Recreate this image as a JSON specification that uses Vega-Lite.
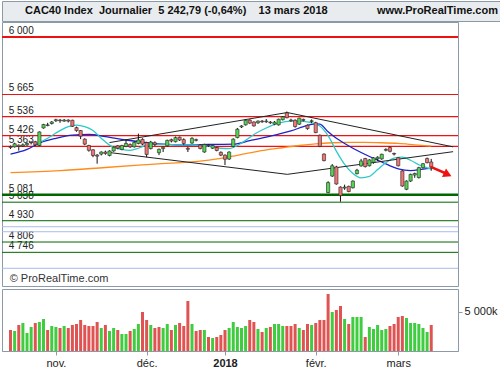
{
"$schema":"https://vega.github.io/schema/vega-lite/v6.json",
"padding":0,
"background":"white",
"config":{"font":"Liberation Sans","view":{"stroke":"#8c9aa8"}},
"datasets":{
"header":[{"pos":"a","t":"CAC40 Index\u00a0\u00a0Journalier\u00a0\u00a05 242,79 (-0,64%)\u00a0\u00a0\u00a0\u00a013 mars 2018"},{"pos":"b","t":"www.ProRealTime.com"}],
"levels":[
{"v":6000,"k":"r","lab":"6 000"},{"v":5665,"k":"r","lab":"5 665"},{"v":5536,"k":"r","lab":"5 536"},{"v":5426,"k":"r","lab":"5 426"},{"v":5363,"k":"r","lab":"5 363"},
{"v":5081,"k":"g","lab":"5 081"},{"v":5038,"k":"g","lab":"5 038"},{"v":4930,"k":"g","lab":"4 930"},{"v":4806,"k":"g","lab":"4 806"},{"v":4746,"k":"g","lab":"4 746"},
{"v":4895,"k":"b","lab":""},{"v":4866,"k":"b","lab":""},{"v":4653,"k":"b","lab":""}],
"ohlc":[
{"i":0,"d":"2017-10-17","o":5362,"h":5368,"l":5348,"c":5356,"v":2671},
{"i":1,"d":"2017-10-18","o":5360,"h":5384,"l":5356,"c":5378,"v":2544},
{"i":2,"d":"2017-10-19","o":5370,"h":5374,"l":5338,"c":5362,"v":3307},
{"i":3,"d":"2017-10-20","o":5365,"h":5380,"l":5360,"c":5372,"v":3562},
{"i":4,"d":"2017-10-23","o":5372,"h":5386,"l":5366,"c":5380,"v":2290},
{"i":5,"d":"2017-10-24","o":5388,"h":5392,"l":5374,"c":5384,"v":3053},
{"i":6,"d":"2017-10-25","o":5390,"h":5395,"l":5366,"c":5372,"v":3562},
{"i":7,"d":"2017-10-26","o":5368,"h":5450,"l":5365,"c":5447,"v":3689},
{"i":8,"d":"2017-10-27","o":5470,"h":5494,"l":5466,"c":5490,"v":4070},
{"i":9,"d":"2017-10-30","o":5484,"h":5500,"l":5480,"c":5488,"v":2671},
{"i":10,"d":"2017-10-31","o":5496,"h":5510,"l":5490,"c":5505,"v":3180},
{"i":11,"d":"2017-11-01","o":5512,"h":5524,"l":5505,"c":5518,"v":3053},
{"i":12,"d":"2017-11-02","o":5516,"h":5522,"l":5500,"c":5512,"v":2926},
{"i":13,"d":"2017-11-03","o":5510,"h":5522,"l":5506,"c":5516,"v":3180},
{"i":14,"d":"2017-11-06","o":5516,"h":5520,"l":5502,"c":5510,"v":2926},
{"i":15,"d":"2017-11-07","o":5515,"h":5518,"l":5476,"c":5480,"v":3307},
{"i":16,"d":"2017-11-08","o":5472,"h":5478,"l":5448,"c":5455,"v":3434},
{"i":17,"d":"2017-11-09","o":5455,"h":5458,"l":5405,"c":5422,"v":3943},
{"i":18,"d":"2017-11-10","o":5405,"h":5410,"l":5370,"c":5376,"v":3307},
{"i":19,"d":"2017-11-13","o":5368,"h":5372,"l":5332,"c":5340,"v":3180},
{"i":20,"d":"2017-11-14","o":5343,"h":5346,"l":5300,"c":5310,"v":3180},
{"i":21,"d":"2017-11-15","o":5312,"h":5318,"l":5262,"c":5306,"v":3689},
{"i":22,"d":"2017-11-16","o":5318,"h":5334,"l":5310,"c":5330,"v":2926},
{"i":23,"d":"2017-11-17","o":5330,"h":5338,"l":5314,"c":5322,"v":3307},
{"i":24,"d":"2017-11-20","o":5310,"h":5340,"l":5305,"c":5336,"v":2544},
{"i":25,"d":"2017-11-21","o":5336,"h":5362,"l":5332,"c":5358,"v":2926},
{"i":26,"d":"2017-11-22","o":5366,"h":5370,"l":5346,"c":5352,"v":2671},
{"i":27,"d":"2017-11-23","o":5345,"h":5372,"l":5340,"c":5368,"v":2162},
{"i":28,"d":"2017-11-24","o":5362,"h":5400,"l":5358,"c":5380,"v":2162},
{"i":29,"d":"2017-11-27","o":5374,"h":5380,"l":5354,"c":5360,"v":2544},
{"i":30,"d":"2017-11-28","o":5360,"h":5392,"l":5356,"c":5386,"v":2798},
{"i":31,"d":"2017-11-29","o":5380,"h":5437,"l":5375,"c":5400,"v":3434},
{"i":32,"d":"2017-11-30","o":5404,"h":5410,"l":5370,"c":5376,"v":4961},
{"i":33,"d":"2017-12-01","o":5385,"h":5390,"l":5300,"c":5316,"v":3943},
{"i":34,"d":"2017-12-04","o":5350,"h":5395,"l":5345,"c":5388,"v":3307},
{"i":35,"d":"2017-12-05","o":5384,"h":5392,"l":5365,"c":5374,"v":2926},
{"i":36,"d":"2017-12-06","o":5326,"h":5350,"l":5312,"c":5346,"v":3053},
{"i":37,"d":"2017-12-07","o":5350,"h":5362,"l":5330,"c":5358,"v":2926},
{"i":38,"d":"2017-12-08","o":5366,"h":5402,"l":5362,"c":5398,"v":3434},
{"i":39,"d":"2017-12-11","o":5402,"h":5408,"l":5386,"c":5394,"v":2671},
{"i":40,"d":"2017-12-12","o":5390,"h":5420,"l":5386,"c":5414,"v":3307},
{"i":41,"d":"2017-12-13","o":5416,"h":5420,"l":5394,"c":5400,"v":3562},
{"i":42,"d":"2017-12-14","o":5402,"h":5410,"l":5372,"c":5380,"v":3180},
{"i":43,"d":"2017-12-15","o":5352,"h":5360,"l":5330,"c":5346,"v":6360},
{"i":44,"d":"2017-12-18","o":5382,"h":5416,"l":5378,"c":5410,"v":3434},
{"i":45,"d":"2017-12-19","o":5402,"h":5408,"l":5392,"c":5398,"v":2544},
{"i":46,"d":"2017-12-20","o":5371,"h":5376,"l":5346,"c":5350,"v":2671},
{"i":47,"d":"2017-12-21","o":5330,"h":5378,"l":5326,"c":5374,"v":2671},
{"i":48,"d":"2017-12-22","o":5370,"h":5374,"l":5360,"c":5366,"v":1781},
{"i":49,"d":"2017-12-27","o":5352,"h":5370,"l":5348,"c":5368,"v":1654},
{"i":50,"d":"2017-12-28","o":5356,"h":5360,"l":5334,"c":5339,"v":1781},
{"i":51,"d":"2017-12-29","o":5328,"h":5334,"l":5306,"c":5312,"v":2035},
{"i":52,"d":"2018-01-02","o":5312,"h":5316,"l":5254,"c":5288,"v":2671},
{"i":53,"d":"2018-01-03","o":5289,"h":5334,"l":5284,"c":5330,"v":2926},
{"i":54,"d":"2018-01-04","o":5362,"h":5410,"l":5358,"c":5405,"v":3689},
{"i":55,"d":"2018-01-05","o":5414,"h":5470,"l":5410,"c":5463,"v":3053},
{"i":56,"d":"2018-01-08","o":5476,"h":5486,"l":5470,"c":5482,"v":2926},
{"i":57,"d":"2018-01-09","o":5488,"h":5520,"l":5484,"c":5515,"v":3180},
{"i":58,"d":"2018-01-10","o":5516,"h":5520,"l":5494,"c":5498,"v":3943},
{"i":59,"d":"2018-01-11","o":5505,"h":5508,"l":5478,"c":5482,"v":3689},
{"i":60,"d":"2018-01-12","o":5500,"h":5514,"l":5494,"c":5510,"v":2800},
{"i":61,"d":"2018-01-15","o":5510,"h":5516,"l":5500,"c":5506,"v":2417},
{"i":62,"d":"2018-01-16","o":5506,"h":5522,"l":5500,"c":5510,"v":2926},
{"i":63,"d":"2018-01-17","o":5504,"h":5510,"l":5494,"c":5500,"v":3053},
{"i":64,"d":"2018-01-18","o":5492,"h":5510,"l":5486,"c":5504,"v":3434},
{"i":65,"d":"2018-01-19","o":5488,"h":5524,"l":5484,"c":5521,"v":3434},
{"i":66,"d":"2018-01-22","o":5518,"h":5540,"l":5514,"c":5535,"v":3180},
{"i":67,"d":"2018-01-23","o":5558,"h":5566,"l":5526,"c":5530,"v":3180},
{"i":68,"d":"2018-01-24","o":5516,"h":5524,"l":5506,"c":5512,"v":3180},
{"i":69,"d":"2018-01-25","o":5515,"h":5520,"l":5472,"c":5478,"v":3434},
{"i":70,"d":"2018-01-26","o":5492,"h":5530,"l":5488,"c":5527,"v":2926},
{"i":71,"d":"2018-01-29","o":5520,"h":5524,"l":5508,"c":5514,"v":2671},
{"i":72,"d":"2018-01-30","o":5486,"h":5490,"l":5460,"c":5466,"v":3434},
{"i":73,"d":"2018-01-31","o":5508,"h":5520,"l":5498,"c":5512,"v":3307},
{"i":74,"d":"2018-02-01","o":5501,"h":5506,"l":5440,"c":5443,"v":3562},
{"i":75,"d":"2018-02-02","o":5428,"h":5432,"l":5358,"c":5362,"v":3943},
{"i":76,"d":"2018-02-05","o":5318,"h":5322,"l":5276,"c":5280,"v":3943},
{"i":77,"d":"2018-02-06","o":5094,"h":5160,"l":5090,"c":5152,"v":7250},
{"i":78,"d":"2018-02-07","o":5190,"h":5260,"l":5185,"c":5250,"v":4961},
{"i":79,"d":"2018-02-08","o":5243,"h":5250,"l":5140,"c":5144,"v":5215},
{"i":80,"d":"2018-02-09","o":5126,"h":5130,"l":5041,"c":5076,"v":5724},
{"i":81,"d":"2018-02-12","o":5120,"h":5140,"l":5110,"c":5126,"v":4070},
{"i":82,"d":"2018-02-13","o":5130,"h":5134,"l":5096,"c":5100,"v":3434},
{"i":83,"d":"2018-02-14","o":5122,"h":5165,"l":5118,"c":5161,"v":4325},
{"i":84,"d":"2018-02-15","o":5204,"h":5232,"l":5200,"c":5224,"v":4325},
{"i":85,"d":"2018-02-16","o":5249,"h":5290,"l":5245,"c":5278,"v":4325},
{"i":86,"d":"2018-02-19","o":5292,"h":5296,"l":5240,"c":5245,"v":1781},
{"i":87,"d":"2018-02-20","o":5250,"h":5288,"l":5246,"c":5284,"v":3053},
{"i":88,"d":"2018-02-21","o":5270,"h":5300,"l":5262,"c":5296,"v":2798},
{"i":89,"d":"2018-02-22","o":5290,"h":5305,"l":5278,"c":5300,"v":3307},
{"i":90,"d":"2018-02-23","o":5290,"h":5320,"l":5285,"c":5317,"v":2671},
{"i":91,"d":"2018-02-26","o":5340,"h":5352,"l":5334,"c":5345,"v":2798},
{"i":92,"d":"2018-02-27","o":5356,"h":5362,"l":5328,"c":5334,"v":3180},
{"i":93,"d":"2018-02-28","o":5322,"h":5326,"l":5310,"c":5318,"v":3434},
{"i":94,"d":"2018-03-01","o":5297,"h":5300,"l":5246,"c":5250,"v":4325},
{"i":95,"d":"2018-03-02","o":5220,"h":5224,"l":5128,"c":5132,"v":4452},
{"i":96,"d":"2018-03-05","o":5113,"h":5165,"l":5108,"c":5161,"v":4197},
{"i":97,"d":"2018-03-06","o":5161,"h":5204,"l":5156,"c":5200,"v":3562},
{"i":98,"d":"2018-03-07","o":5196,"h":5210,"l":5180,"c":5205,"v":3562},
{"i":99,"d":"2018-03-08","o":5181,"h":5244,"l":5176,"c":5239,"v":3434},
{"i":100,"d":"2018-03-09","o":5239,"h":5266,"l":5234,"c":5262,"v":2926},
{"i":101,"d":"2018-03-12","o":5292,"h":5298,"l":5264,"c":5268,"v":2417},
{"i":102,"d":"2018-03-13","o":5272,"h":5290,"l":5221,"c":5243,"v":3307}],
"ma":[
{"ln":"c","i":6,"v":5375},{"ln":"c","i":9,"v":5410},{"ln":"c","i":12,"v":5455},{"ln":"c","i":14,"v":5478},{"ln":"c","i":16,"v":5487},{"ln":"c","i":18,"v":5478},{"ln":"c","i":20,"v":5455},{"ln":"c","i":22,"v":5410},{"ln":"c","i":24,"v":5370},{"ln":"c","i":27,"v":5345},{"ln":"c","i":29,"v":5340},{"ln":"c","i":31,"v":5352},{"ln":"c","i":33,"v":5370},{"ln":"c","i":36,"v":5376},{"ln":"c","i":40,"v":5372},{"ln":"c","i":44,"v":5372},{"ln":"c","i":48,"v":5364},{"ln":"c","i":51,"v":5352},{"ln":"c","i":53,"v":5350},{"ln":"c","i":55,"v":5368},{"ln":"c","i":57,"v":5398},{"ln":"c","i":59,"v":5432},{"ln":"c","i":62,"v":5470},{"ln":"c","i":65,"v":5498},{"ln":"c","i":68,"v":5510},{"ln":"c","i":71,"v":5508},{"ln":"c","i":73,"v":5500},{"ln":"c","i":75,"v":5482},{"ln":"c","i":77,"v":5425},{"ln":"c","i":79,"v":5335},{"ln":"c","i":81,"v":5258},{"ln":"c","i":83,"v":5205},{"ln":"c","i":85,"v":5180},{"ln":"c","i":87,"v":5188},{"ln":"c","i":89,"v":5228},{"ln":"c","i":91,"v":5268},{"ln":"c","i":93,"v":5295},{"ln":"c","i":95,"v":5300},{"ln":"c","i":97,"v":5282},{"ln":"c","i":99,"v":5256},{"ln":"c","i":101,"v":5238},{"ln":"c","i":102,"v":5230},
{"ln":"b","i":0,"v":5318},{"ln":"b","i":4,"v":5345},{"ln":"b","i":7,"v":5382},{"ln":"b","i":11,"v":5410},{"ln":"b","i":15,"v":5428},{"ln":"b","i":19,"v":5432},{"ln":"b","i":23,"v":5420},{"ln":"b","i":28,"v":5400},{"ln":"b","i":33,"v":5385},{"ln":"b","i":37,"v":5376},{"ln":"b","i":43,"v":5371},{"ln":"b","i":48,"v":5374},{"ln":"b","i":54,"v":5376},{"ln":"b","i":58,"v":5396},{"ln":"b","i":63,"v":5422},{"ln":"b","i":68,"v":5453},{"ln":"b","i":72,"v":5485},{"ln":"b","i":74,"v":5494},{"ln":"b","i":75,"v":5492},{"ln":"b","i":77,"v":5448},{"ln":"b","i":79,"v":5410},{"ln":"b","i":81,"v":5380},{"ln":"b","i":85,"v":5327},{"ln":"b","i":90,"v":5272},{"ln":"b","i":94,"v":5232},{"ln":"b","i":97,"v":5222},{"ln":"b","i":100,"v":5230},{"ln":"b","i":102,"v":5236},
{"ln":"o","i":0,"v":5210},{"ln":"o","i":12,"v":5222},{"ln":"o","i":23,"v":5240},{"ln":"o","i":35,"v":5260},{"ln":"o","i":47,"v":5280},{"ln":"o","i":52,"v":5298},{"ln":"o","i":58,"v":5325},{"ln":"o","i":62,"v":5342},{"ln":"o","i":66,"v":5355},{"ln":"o","i":70,"v":5368},{"ln":"o","i":74,"v":5378},{"ln":"o","i":78,"v":5384},{"ln":"o","i":82,"v":5386},{"ln":"o","i":86,"v":5386},{"ln":"o","i":90,"v":5384},{"ln":"o","i":94,"v":5380},{"ln":"o","i":98,"v":5372},{"ln":"o","i":102,"v":5364}],
"trend":[
{"seg":"u","i":24,"v":5385},{"seg":"u","i":67.1,"v":5560},{"seg":"u","i":107.3,"v":5360},
{"seg":"l","i":24,"v":5327},{"seg":"l","i":67.1,"v":5200},{"seg":"l","i":107.3,"v":5332}],
"arrow":[{"i":101.9,"v":5243},{"i":105.6,"v":5205}],
"head":[{"i":106.0,"v":5199}],
"copy":[{"t":"© ProRealTime.com"}]
},
"spacing":1,
"bounds":"flush",
"vconcat":[
{
 "width":499,"height":20,
 "view":{"fill":"#e8ecef","stroke":"#8c9aa8"},
 "data":{"name":"header"},
 "layer":[
  {"transform":[{"filter":"datum.pos=='a'"}],
   "mark":{"type":"text","align":"left","baseline":"middle","dx":23,"fontSize":11,"fontWeight":"bold","color":"#111"},
   "encoding":{"x":{"field":"pos","type":"nominal","scale":{"type":"point","domain":["a","b"],"padding":0},"axis":null},"text":{"field":"t"}}},
  {"transform":[{"filter":"datum.pos=='b'"}],
   "mark":{"type":"text","align":"right","baseline":"middle","dx":-3,"fontSize":11,"fontWeight":"bold","color":"#111"},
   "encoding":{"x":{"field":"pos","type":"nominal","scale":{"type":"point","domain":["a","b"],"padding":0},"axis":null},"text":{"field":"t"}}}
 ]
},
{
 "spacing":3,
 "bounds":"flush",
 "vconcat":[
 {
  "width":456,"height":264,
  "layer":[
   {"data":{"name":"levels"},"transform":[{"filter":"datum.k!='b'"}],
    "mark":{"type":"text","align":"left","baseline":"alphabetic","dy":-3,"fontSize":10,"color":"#222"},
    "encoding":{"x":{"datum":-0.45,"type":"quantitative","scale":{"domain":[-0.854,107.28],"nice":false,"zero":false},"axis":null},
     "y":{"field":"v","type":"quantitative","scale":{"domain":[4550,6087],"nice":false,"zero":false},"axis":null},
     "text":{"field":"lab"}}},
   {"data":{"name":"copy"},
    "mark":{"type":"text","align":"left","baseline":"middle","fontSize":11,"color":"#333"},
    "encoding":{"x":{"datum":-0.2,"type":"quantitative","axis":null},"y":{"datum":4591,"type":"quantitative","axis":null},"text":{"field":"t"}}},
   {"data":{"name":"levels"},"transform":[{"filter":"datum.k=='b'"}],
    "mark":{"type":"rule","color":"#a8bbea","strokeWidth":1},
    "encoding":{"y":{"field":"v","type":"quantitative","axis":null}}},
   {"data":{"name":"levels"},"transform":[{"filter":"datum.k=='g'"}],
    "mark":{"type":"rule","color":"#006600"},
    "encoding":{"y":{"field":"v","type":"quantitative","axis":null},"strokeWidth":{"condition":{"test":"datum.v==5081","value":2.5},"value":1}}},
   {"data":{"name":"levels"},"transform":[{"filter":"datum.k=='r'"}],
    "mark":{"type":"rule","color":"#ee1111"},
    "encoding":{"y":{"field":"v","type":"quantitative","axis":null},"strokeWidth":{"condition":{"test":"datum.v==6000","value":2},"value":1.2}}},
   {"data":{"name":"ma"},"transform":[{"filter":"datum.ln=='o'"}],
    "mark":{"type":"line","color":"#ff8c1a","strokeWidth":1.3,"interpolate":"monotone"},
    "encoding":{"x":{"field":"i","type":"quantitative","axis":null},"y":{"field":"v","type":"quantitative","axis":null}}},
   {"data":{"name":"ma"},"transform":[{"filter":"datum.ln=='b'"}],
    "mark":{"type":"line","color":"#1e22c8","strokeWidth":1.3,"interpolate":"monotone"},
    "encoding":{"x":{"field":"i","type":"quantitative","axis":null},"y":{"field":"v","type":"quantitative","axis":null}}},
   {"data":{"name":"ma"},"transform":[{"filter":"datum.ln=='c'"}],
    "mark":{"type":"line","color":"#2ccaca","strokeWidth":1.3,"interpolate":"monotone"},
    "encoding":{"x":{"field":"i","type":"quantitative","axis":null},"y":{"field":"v","type":"quantitative","axis":null}}},
   {"data":{"name":"trend"},
    "mark":{"type":"line","color":"#222","strokeWidth":1},
    "encoding":{"x":{"field":"i","type":"quantitative","axis":null},"y":{"field":"v","type":"quantitative","axis":null},"detail":{"field":"seg"}}},
   {"data":{"name":"ohlc"},
    "mark":{"type":"rule","color":"#111","strokeWidth":1},
    "encoding":{"x":{"field":"i","type":"quantitative","axis":null},"y":{"field":"l","type":"quantitative","axis":null},"y2":{"field":"h"}}},
   {"data":{"name":"ohlc"},
    "mark":{"type":"bar","width":3.2,"stroke":"#222","strokeWidth":0.6},
    "encoding":{"x":{"field":"i","type":"quantitative","axis":null},
     "y":{"field":"o","type":"quantitative","axis":{"orient":"right","values":[5000,5500,6000],"title":null,"grid":false,"domain":false,"tickColor":"#8c9aa8","tickSize":4,"labelPadding":2,"labelFontSize":11,"labelColor":"#222","labelFontWeight":{"condition":{"test":"datum.value==5000","value":"bold"},"value":"normal"},"labelExpr":"replace(format(datum.value, ','), ',', ' ')"}},
     "y2":{"field":"c"},
     "fill":{"condition":{"test":"datum.c>=datum.o","value":"#55d455"},"value":"#f07575"}}},
   {"data":{"name":"arrow"},
    "mark":{"type":"line","color":"#ee1111","strokeWidth":2.5},
    "encoding":{"x":{"field":"i","type":"quantitative","axis":null},"y":{"field":"v","type":"quantitative","axis":null}}},
   {"data":{"name":"head"},
    "mark":{"type":"point","shape":"triangle-right","filled":true,"color":"#ee1111","size":90,"angle":25,"opacity":1},
    "encoding":{"x":{"field":"i","type":"quantitative","axis":null},"y":{"field":"v","type":"quantitative","axis":null}}}
  ]
 },
 {
  "width":456,"height":62,
  "data":{"name":"ohlc"},
  "transform":[{"window":[{"op":"lag","field":"c","as":"pc"}],"sort":[{"field":"i","order":"ascending"}]}],
  "mark":{"type":"bar","width":3},
  "encoding":{
   "x":{"field":"i","type":"quantitative","scale":{"domain":[-0.854,107.28],"nice":false,"zero":false},
    "axis":{"values":[11,33,52,74,94],"labelExpr":"datum.value==11?'nov.':datum.value==33?'déc.':datum.value==52?'2018':datum.value==74?'févr.':'mars'","title":null,"grid":false,"tickSize":4,"tickColor":"#8c9aa8","domainColor":"#8c9aa8","labelFontSize":11,"labelColor":"#222","labelPadding":2,"labelFontWeight":{"condition":{"test":"datum.value==52","value":"bold"},"value":"normal"}}},
   "y":{"field":"v","type":"quantitative","scale":{"domain":[0,7888],"nice":false},
    "axis":{"orient":"right","values":[5000],"labelExpr":"'5 000k'","title":null,"grid":false,"domain":false,"tickSize":4,"tickColor":"#8c9aa8","labelPadding":2,"labelFontSize":11,"labelColor":"#222"}},
   "fill":{"condition":{"test":"datum.pc!=null && datum.c>datum.pc","value":"#3fcc3f"},"value":"#e05353"}
  }
 }
 ]
}
]
}
